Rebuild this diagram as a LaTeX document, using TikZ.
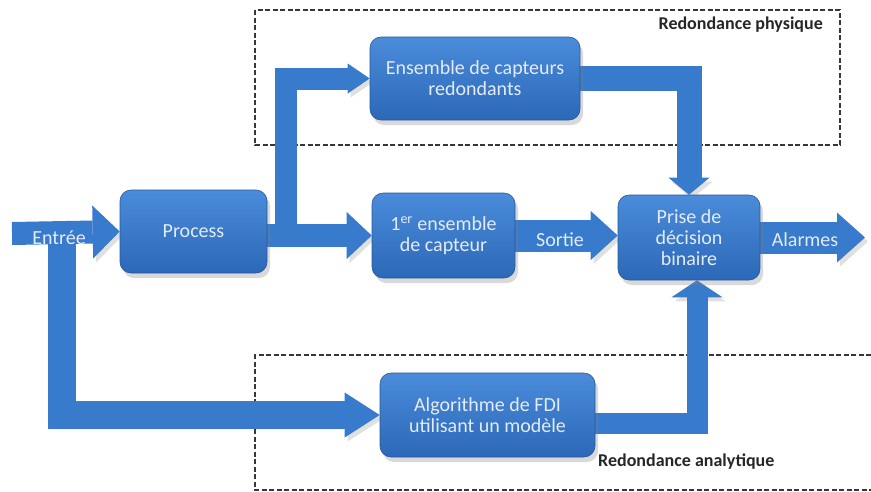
\documentclass[tikz,border=0pt]{standalone}
\usepackage{fontspec}
\setmainfont{Carlito}
\usetikzlibrary{arrows.meta,calc,shadows}
\definecolor{boxtop}{RGB}{74,140,218}
\definecolor{boxbot}{RGB}{44,104,184}
\definecolor{arrowblue}{RGB}{56,122,204}
\definecolor{txt}{RGB}{228,235,247}
\definecolor{dashc}{RGB}{55,55,55}
\pgfdeclarelayer{background}
\pgfsetlayers{background,main}
\tikzset{
 block/.style={rounded corners=11pt, top color=boxtop, bottom color=boxbot, draw=boxbot!85!black, line width=0.6pt, text=txt, align=center, font=\fontsize{20}{21}\selectfont, inner sep=0pt, drop shadow={opacity=0.3, shadow xshift=3pt, shadow yshift=-5pt}},
 barrow/.style n args={3}{draw=arrowblue, line width=#1pt, line join=miter, -{Triangle[width=#2pt,length=#3pt,line width=0pt]}, preaction={draw=black, opacity=0.12, transform canvas={shift={(3pt,-4pt)}}}},
 zone/.style={draw=dashc, line width=1.3pt, dash pattern=on 5pt off 2.5pt},
 zonelabel/.style={text=black!85, font=\bfseries\fontsize{18}{20}\selectfont, inner sep=0pt},
 arrlabel/.style={text=txt, font=\fontsize{20}{21}\selectfont, inner sep=0pt},
}
\begin{document}
\begin{tikzpicture}[x=1pt,y=-1pt]
\useasboundingbox (0,0) rectangle (871,491);
% boxes
\node[block, minimum width=147pt, minimum height=83pt] (process) at (193.5,231.5) {Process};
\node[block, minimum width=210pt, minimum height=83pt] (ens) at (475,78.5) {Ensemble de capteurs\\redondants};
\node[block, minimum width=143pt, minimum height=85pt] (capt) at (443.5,235.5) {1\textsuperscript{er} ensemble\\de capteur};
\node[block, minimum width=142pt, minimum height=85pt] (prise) at (689,237.5) {Prise de\\décision\\binaire};
\node[block, minimum width=215pt, minimum height=84pt] (algo) at (487.5,415) {Algorithme de FDI\\utilisant un modèle};
\begin{pgfonlayer}{background}
% zones
\draw[zone] (255,10) rectangle (840,145);
\draw[zone] (871,355) -- (255,355) -- (255,490) -- (871,490);
% connectors
\coordinate (inL) at (12,233.5);
\coordinate (split) at (62,233.5);
\coordinate (branch) at (286,236);
\coordinate (out) at (865,237.5);
\draw[barrow={28}{45}{35}] (split) |- (algo.west);
\draw[barrow={23}{53}{27}] (inL) -- (process.west);
\draw[barrow={22}{30}{22}] (branch) |- (ens.west);
\draw[barrow={23}{47}{25}] (process.east |- capt.west) -- (capt.west);
\draw[barrow={25}{41}{17}] (ens.east) -| (prise.north);
\draw[barrow={32}{49}{27}] (capt.east) -- (capt.east -| prise.west);
\draw[barrow={32}{50}{28}] (prise.east) -- (out);
\draw[barrow={21}{51}{17}] ($(algo.east)+(0,8)$) -| ($(prise.south)+(8,0)$);
\end{pgfonlayer}
\node[zonelabel, anchor=east] (lphys) at (823,25) {Redondance physique};
\node[zonelabel, anchor=west] (lana) at (598,462) {Redondance analytique};
% arrow labels
\node[arrlabel] (lin) at (59,238) {Entrée};
\node[arrlabel] (lsortie) at (560,240) {Sortie};
\node[arrlabel] (lalarm) at (805,240) {Alarmes};
\end{tikzpicture}
\end{document}
